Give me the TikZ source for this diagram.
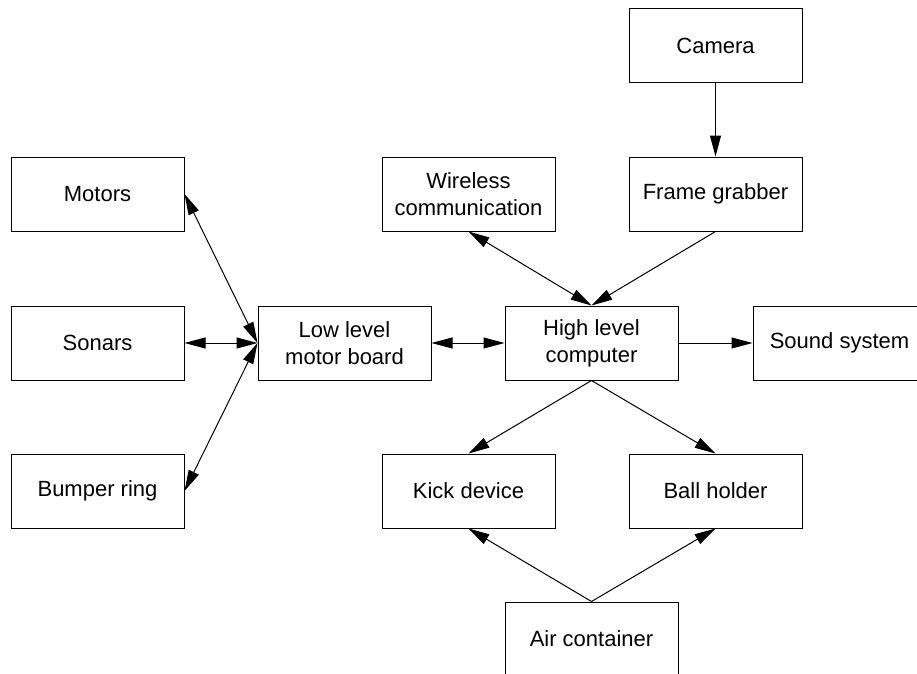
\documentclass[tikz,border=0pt]{standalone}
\usepackage{fontspec}
\setmainfont{Liberation Sans}
\usetikzlibrary{arrows.meta}

\begin{document}
\begin{tikzpicture}[x=0.75pt,y=-0.75pt,>={Triangle[length=15.75pt,width=8.25pt]}]
		\tikzstyle{BoxStyle}=[draw,line width=0.75pt,minimum width=129.75pt,minimum height=55.5pt,inner sep=0pt,align=center,font=\fontsize{16.5}{20}\selectfont]
		\tikzstyle{EdgeStyle}=[line width=0.75pt,->]
		\tikzstyle{BothStyle}=[line width=0.75pt,<->]
		\useasboundingbox (0,0) rectangle (917,674);
		\clip (0,0) rectangle (917,674);
		% left column
		\node[BoxStyle] (motors) at (97.5,194) {Motors};
		\node[BoxStyle] (sonars) at (97.5,343) {Sonars};
		\node[BoxStyle] (bumper) at (97.5,491) {Bumper ring};
		\node[BoxStyle] (lowlevel) at (344.5,343) {Low level\\motor board};
		% right part
		\node[BoxStyle] (camera) at (715.5,46) {Camera};
		\node[BoxStyle] (grabber) at (715.5,194) {Frame grabber};
		\node[BoxStyle] (wireless) at (468.5,194) {Wireless\\communication};
		\node[BoxStyle] (highlevel) at (591.5,343) {High level\\computer};
		\node[BoxStyle] (sound) at (839.5,343) {Sound system};
		\node[BoxStyle] (kick) at (468.5,491) {Kick device};
		\node[BoxStyle] (holder) at (715.5,491) {Ball holder};
		\node[BoxStyle] (air) at (591.5,639) {Air container};
		\draw[BothStyle] (motors.east) -- (lowlevel.west);
		\draw[BothStyle] (sonars.east) -- (lowlevel.west);
		\draw[BothStyle] (bumper.east) -- (lowlevel.west);
		\draw[BothStyle] (lowlevel.east) -- (highlevel.west);
		\draw[BothStyle] (wireless.south) -- (highlevel.north);
		\draw[EdgeStyle] (camera.south) -- (grabber.north);
		\draw[EdgeStyle] (grabber.south) -- (highlevel.north);
		\draw[EdgeStyle] (highlevel.east) -- (sound.west);
		\draw[EdgeStyle] (highlevel.south) -- (kick.north);
		\draw[EdgeStyle] (highlevel.south) -- (holder.north);
		\draw[EdgeStyle] (air.north) -- (kick.south);
		\draw[EdgeStyle] (air.north) -- (holder.south);
	\end{tikzpicture}
\end{document}
